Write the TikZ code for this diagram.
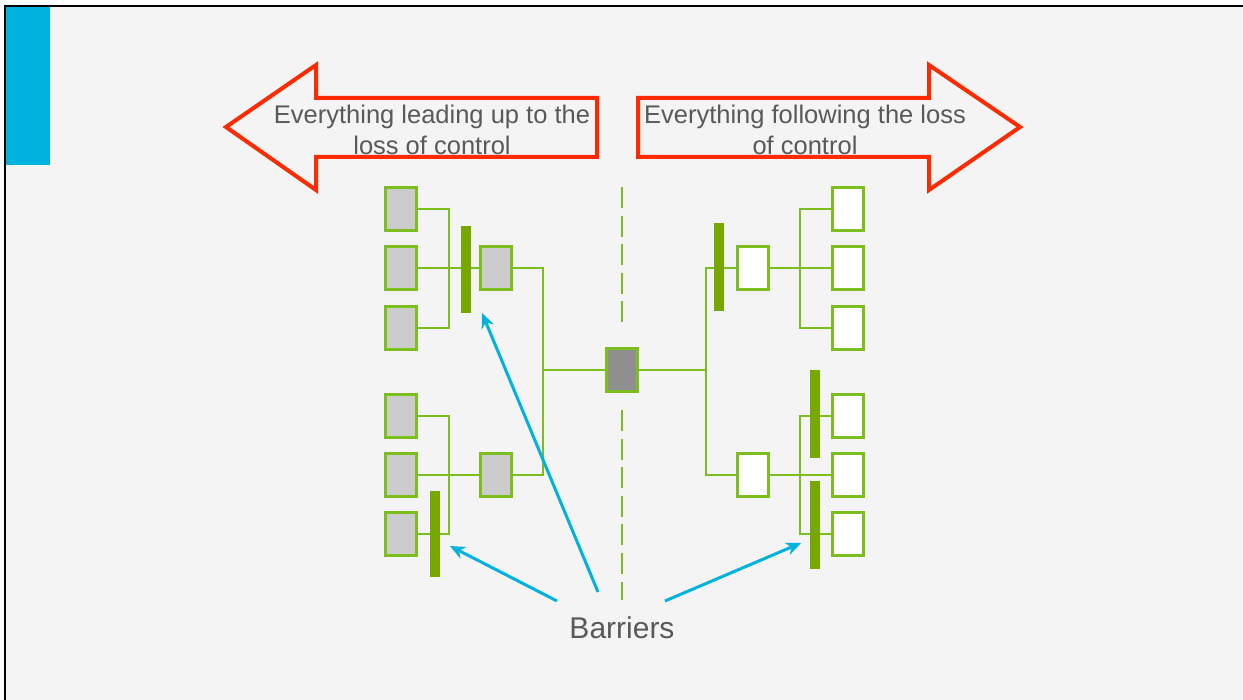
\documentclass[tikz,border=0pt]{standalone}
\usepackage{fontspec}
\setmainfont{Liberation Sans}
\usetikzlibrary{arrows.meta}

\definecolor{pagebg}{HTML}{F4F4F4}
\definecolor{tabblue}{HTML}{00B3DE}
\definecolor{arrowred}{HTML}{FF2A00}
\definecolor{linegreen}{HTML}{7DBE1F}
\definecolor{bargreen}{HTML}{77A800}
\definecolor{boxgray}{HTML}{CCCCCC}
\definecolor{topgray}{HTML}{8F8F8F}
\definecolor{textgray}{HTML}{595959}

\tikzset{
  evbox/.style={rectangle, draw=linegreen, line width=2.6pt, inner sep=0pt,
    minimum width=31pt, minimum height=43pt},
  causebox/.style={evbox, fill=boxgray},
  conseqbox/.style={evbox, fill=white},
  topbox/.style={evbox, fill=topgray},
  wire/.style={draw=linegreen, line width=2.6pt, line join=miter},
  barrier/.style={rectangle, fill=bargreen, inner sep=0pt, minimum width=10pt},
  divider/.style={draw=linegreen, line width=2.6pt, dash pattern=on 21pt off 7.6pt},
  bigarrow/.style={draw=arrowred, line width=4pt, line join=miter},
  pointer/.style={draw=tabblue, line width=3pt, -{Stealth[length=15pt,width=13pt]}},
  headtext/.style={text=textgray, align=center, inner sep=0pt,
    font=\fontsize{25.5}{31}\selectfont},
}

\begin{document}
\begin{tikzpicture}[x=1pt,y=-1pt]
\useasboundingbox (0,0) rectangle (1243,700);
\fill[white] (0,0) rectangle (1243,700);
\fill[pagebg] (5,6) rectangle (1243,700);
\fill[tabblue] (6,7) rectangle (50,165);
\draw[black, line width=2pt] (5,700) -- (5,6) -- (1243,6);

% direction arrows
\draw[bigarrow] (226,127) -- (316,65) -- (316,98) -- (597,98) -- (597,157)
  -- (316,157) -- (316,190) -- cycle;
\draw[bigarrow] (1020,127) -- (929,65) -- (929,98) -- (638,98) -- (638,157)
  -- (929,157) -- (929,190) -- cycle;
\node[headtext] (pastlbl) at (432,130) {Everything leading up to the\\loss of control};
\node[headtext] (futlbl) at (805,130) {Everything following the loss\\of control};

% centre divider
\coordinate (dA) at (622,187);
\coordinate (dB) at (622,323);
\coordinate (dC) at (622,410);
\coordinate (dD) at (622,600);
\draw[divider] (dA) -- (dB);
\draw[divider] (dC) -- (dD);

% top event
\node[topbox] (C) at (622,370) {};

% causes
\node[causebox] (L1) at (401,209) {};
\node[causebox] (L2) at (401,268) {};
\node[causebox] (L3) at (401,328) {};
\node[causebox] (L4) at (496,268) {};
\node[causebox] (L5) at (401,416) {};
\node[causebox] (L6) at (401,475) {};
\node[causebox] (L7) at (401,534) {};
\node[causebox] (L8) at (496,475) {};

% consequences
\node[conseqbox] (R1) at (753,268) {};
\node[conseqbox] (R2) at (753,475) {};
\node[conseqbox] (RA) at (848,209) {};
\node[conseqbox] (RB) at (848,268) {};
\node[conseqbox] (RC) at (848,328) {};
\node[conseqbox] (RD) at (848,416) {};
\node[conseqbox] (RE) at (848,475) {};
\node[conseqbox] (RF) at (848,534) {};

% junctions
\coordinate (J1) at (449,268);
\coordinate (J2) at (449,475);
\coordinate (J3) at (543,370);
\coordinate (J4) at (706,370);
\coordinate (J5) at (800,268);
\coordinate (J6) at (800,475);

% tree connections
\draw[wire] (L1.east) -| (J1) |- (L3.east);
\draw[wire] (L2.east) -- (L4.west);
\draw[wire] (L5.east) -| (J2) |- (L7.east);
\draw[wire] (L6.east) -- (L8.west);
\draw[wire] (L4.east) -| (J3) |- (L8.east);
\draw[wire] (J3) -- (C.west);
\draw[wire] (C.east) -- (J4);
\draw[wire] (R1.west) -| (J4) |- (R2.west);
\draw[wire] (RA.west) -| (J5) |- (RC.west);
\draw[wire] (R1.east) -- (RB.west);
\draw[wire] (RD.west) -| (J6) |- (RF.west);
\draw[wire] (R2.east) -- (RE.west);

% barriers
\node[barrier, minimum height=87pt] (B1) at (466,270) {};
\node[barrier, minimum height=86pt] (B2) at (435,534) {};
\node[barrier, minimum height=88pt] (B3) at (719,267) {};
\node[barrier, minimum height=88pt] (B4) at (815,414) {};
\node[barrier, minimum height=87pt] (B5) at (815,525) {};

% label and pointers
\node[text=textgray, inner sep=0pt, font=\fontsize{30}{36}\selectfont,
  anchor=base] (barlbl) at (622,638) {Barriers};
\coordinate (p1s) at (557,601);
\coordinate (p1e) at (450,546);
\coordinate (p2s) at (598,592);
\coordinate (p2e) at (482,313);
\coordinate (p3s) at (665,601);
\coordinate (p3e) at (801,543);
\draw[pointer] (p1s) -- (p1e);
\draw[pointer] (p2s) -- (p2e);
\draw[pointer] (p3s) -- (p3e);
\end{tikzpicture}
\end{document}
